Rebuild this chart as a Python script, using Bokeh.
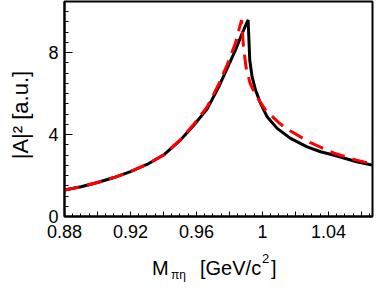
from bokeh.plotting import figure
from bokeh.layouts import column
from bokeh.models import Range1d, FixedTicker, Div
from bokeh.embed import file_html
from bokeh.resources import INLINE

# ---- data ----
black_x = [0.880, 0.890, 0.900, 0.910, 0.920, 0.930, 0.940, 0.9503, 0.9584, 0.9665,
           0.9735, 0.9786, 0.9836, 0.9877, 0.9913, 0.9923, 0.9937, 0.9958, 0.9988,
           1.0028, 1.0089, 1.0170, 1.0271, 1.0352, 1.0430, 1.0571, 1.0710]
black_y = [1.29, 1.45, 1.66, 1.90, 2.19, 2.54, 3.00, 3.73, 4.45, 5.25,
           6.33, 7.23, 8.12, 8.94, 9.59, 7.63, 6.82, 6.17, 5.52,
           4.87, 4.30, 3.81, 3.40, 3.16, 3.00, 2.67, 2.43]

red_x = [0.880, 0.890, 0.900, 0.910, 0.920, 0.930, 0.940, 0.9503, 0.9584, 0.9665,
         0.9735, 0.9786, 0.9836, 0.9873, 0.9885, 0.9900, 0.9925, 0.9958, 1.0018,
         1.0109, 1.0170, 1.0291, 1.0430, 1.0570, 1.0710]
red_y = [1.29, 1.45, 1.66, 1.90, 2.19, 2.54, 3.00, 3.75, 4.50, 5.35,
         6.45, 7.40, 8.45, 9.58, 8.30, 7.30, 6.50, 5.93, 5.20,
         4.51, 4.17, 3.60, 3.10, 2.75, 2.48]

x_ticks = [0.88, 0.90, 0.92, 0.94, 0.96, 0.98, 1.00, 1.02, 1.04, 1.06]
x_tick_labels = ["0.88", "", "0.92", "", "0.96", "", "1", "", "1.04", ""]
x_minor = [round(0.875 + 0.005 * i, 3) for i in range(41)]
y_ticks = [0, 4, 8]
y_tick_labels = ["0", "4", "8"]
y_minor = [0.5 * i for i in range(22)]

x_title_parts = ["M", "πη", "[GeV/c", "2", "]"]
y_title = "|A|² [a.u.]"

FONT = "Liberation Sans"

p = figure(width=374, height=250, output_backend="svg", toolbar_location=None,
           x_range=Range1d(0.88, 1.0667), y_range=Range1d(0, 10.49),
           min_border_left=64, min_border_right=2, min_border_top=1,
           min_border_bottom=34)
p.background_fill_color = "white"
p.border_fill_color = "white"
p.grid.visible = False
p.outline_line_color = "black"
p.outline_line_width = 2

p.line(black_x, black_y, line_color="black", line_width=3)
p.line(red_x, red_y, line_color="#ff0000", line_width=3, line_dash="15 8")

xa = p.xaxis[0]
xa.ticker = FixedTicker(ticks=x_ticks, minor_ticks=x_minor)
xa.major_label_overrides = {t: l for t, l in zip(x_ticks, x_tick_labels)}
ya = p.yaxis[0]
ya.ticker = FixedTicker(ticks=y_ticks, minor_ticks=y_minor)
ya.major_label_overrides = {t: l for t, l in zip(y_ticks, y_tick_labels)}

for ax in (xa, ya):
    ax.axis_line_color = "black"
    ax.axis_line_width = 2
    ax.major_tick_line_color = "black"
    ax.minor_tick_line_color = "black"
    ax.major_tick_line_width = 1
    ax.minor_tick_line_width = 1
    ax.major_tick_out = 0
    ax.minor_tick_out = 0
    ax.major_label_text_font = FONT
    ax.major_label_text_font_size = "18px"
    ax.major_label_text_color = "black"
xa.major_tick_in = 5
xa.minor_tick_in = 3
xa.major_label_standoff = 8
ya.major_tick_in = 8
ya.minor_tick_in = 4
ya.major_label_standoff = 6

# y-axis title (non-breaking spaces nudge it slightly downward)
ya.axis_label = y_title + "\u00a0\u00a0"
ya.axis_label_text_font = FONT
ya.axis_label_text_font_size = "22px"
ya.axis_label_text_font_style = "normal"
ya.axis_label_text_color = "black"
ya.axis_label_standoff = 12

# x-axis title as HTML below the plot: M_{πη} [GeV/c^2]
part_left = [152, 171, 200, 262, 271]      # px from left
part_top = [8, 19, 8, 2, 8]                # px from top of the strip
part_size = [20, 12, 20, 13, 20]           # font size, px
spans = "".join(
    f'<span style="position:absolute;left:{l}px;top:{tp}px;font-size:{s}px;'
    f'line-height:{s}px;white-space:nowrap;">{txt}</span>'
    for l, tp, s, txt in zip(part_left, part_top, part_size, x_title_parts)
)
html = (f'<div style="position:relative;width:374px;height:30px;'
        f'font-family:\'{FONT}\';color:black;">{spans}</div>')
title_div = Div(text=html, width=374, height=30, margin=0)

layout = column(p, title_div, spacing=0)
open("out.html", "w").write(file_html(layout, INLINE))
